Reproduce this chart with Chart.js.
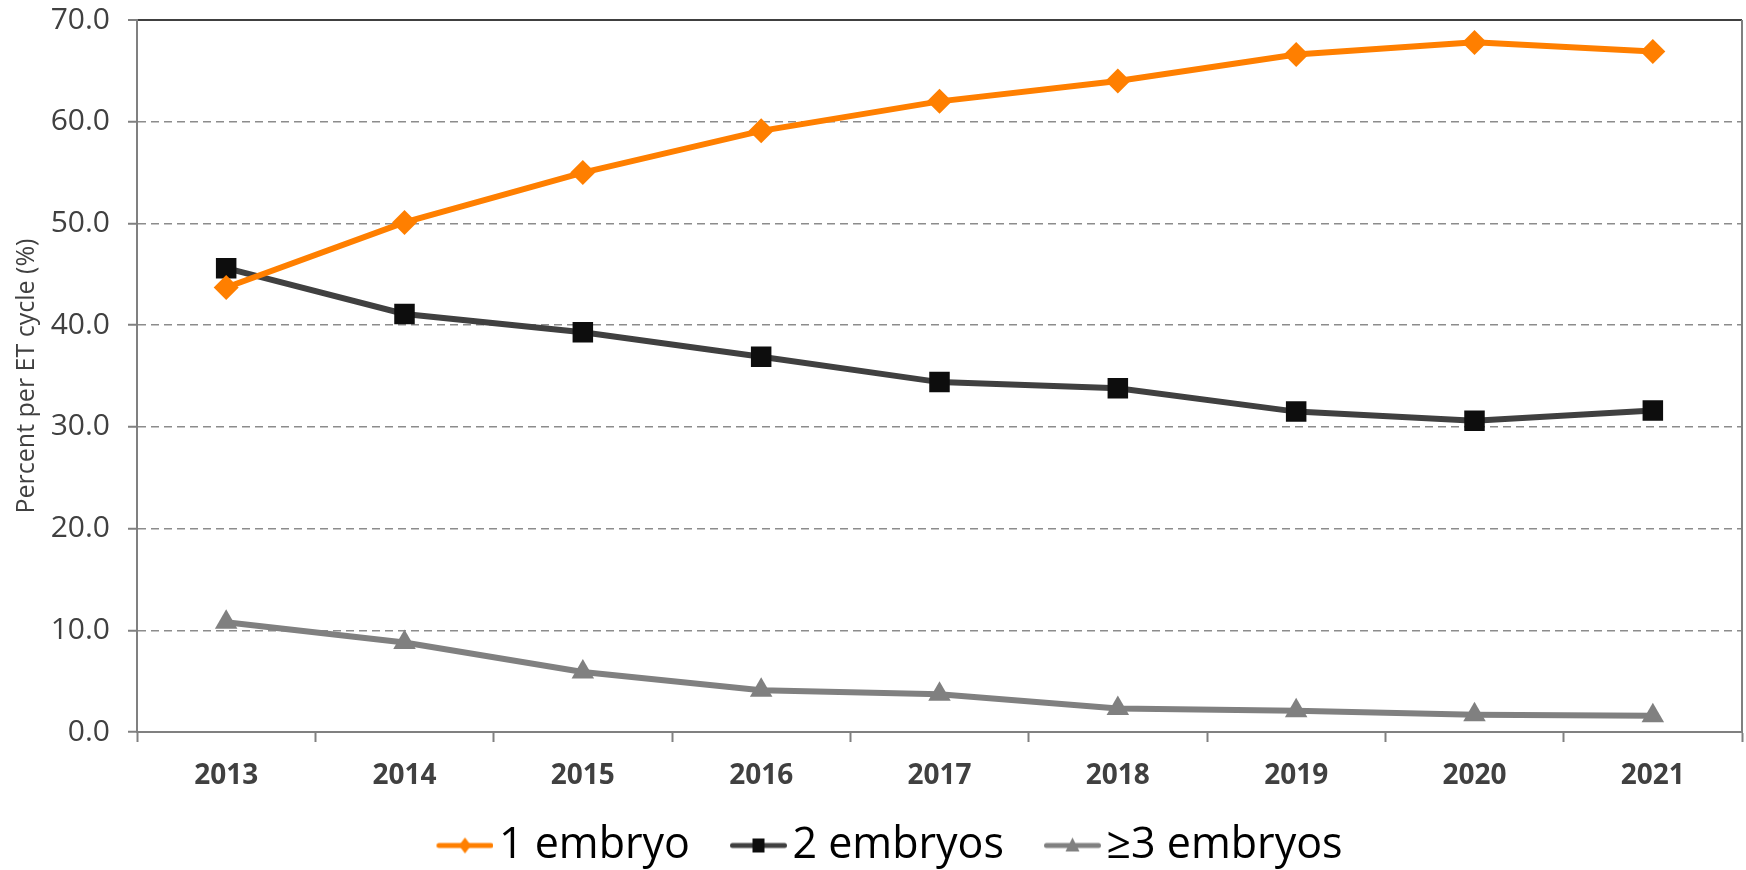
<!DOCTYPE html>
<html>
<head>
<meta charset="utf-8">
<title>Embryos transferred per ET cycle</title>
<script src="https://cdn.jsdelivr.net/npm/chart.js@4.4.1/dist/chart.umd.min.js"></script>
<style>
  html, body { margin: 0; padding: 0; background: #fff; overflow: hidden; }
  #wrap { width: 1746px; height: 870px; }
</style>
</head>
<body>
<div id="wrap"><canvas id="grafico"></canvas></div>
<script>
// dados
const years = ['2013', '2014', '2015', '2016', '2017', '2018', '2019', '2020', '2021'];
const oneEmbryo = [43.7, 50.1, 55.0, 59.1, 62.0, 64.0, 66.6, 67.8, 66.9];
const twoEmbryos = [45.6, 41.1, 39.3, 36.9, 34.4, 33.8, 31.5, 30.6, 31.6];
const threePlusEmbryos = [10.8, 8.8, 5.9, 4.1, 3.7, 2.3, 2.1, 1.7, 1.6];
const yTicks = [0, 10, 20, 30, 40, 50, 60, 70];

const ORANGE = '#FF7F00';
const DARK = '#404040';
const GREY = '#808080';

// legend icons: short line with marker, blank space on the left for spacing
function legendIcon(color, markerColor, shape) {
    const c = document.createElement('canvas');
    c.width = 110;
    c.height = 24;
    const g = c.getContext('2d');
    g.strokeStyle = color;
    g.lineWidth = 5;
    g.lineCap = 'round';
    g.beginPath();
    g.moveTo(55.5, 12);
    g.lineTo(107.5, 12);
    g.stroke();
    const mx = 81.5;
    g.fillStyle = markerColor;
    g.beginPath();
    if (shape === 'diamond') {
        g.moveTo(mx, 4); g.lineTo(mx + 6, 12); g.lineTo(mx, 20); g.lineTo(mx - 6, 12);
    } else if (shape === 'square') {
        g.rect(mx - 6, 5, 12, 14);
    } else {
        g.moveTo(mx, 4); g.lineTo(mx + 7, 18); g.lineTo(mx - 7, 18);
    }
    g.closePath();
    g.fill();
    return c;
}
const icons = [
    legendIcon(ORANGE, ORANGE, 'diamond'),
    legendIcon(DARK, '#0D0D0D', 'square'),
    legendIcon(GREY, GREY, 'triangle')
];

// right border of the plot area
const rightBorder = {
    id: 'rightBorder',
    afterDraw(chart) {
        const a = chart.chartArea;
        const ctx = chart.ctx;
        ctx.save();
        ctx.strokeStyle = GREY;
        ctx.lineWidth = 2;
        ctx.beginPath();
        ctx.moveTo(a.right, a.top);
        ctx.lineTo(a.right, a.bottom + 1);
        ctx.stroke();
        ctx.restore();
    }
};

const ctx = document.getElementById('grafico');
const chart = new Chart(ctx.getContext('2d'), {
    type: 'line',
    data: {
        labels: years,
        datasets: [{
            label: '1 embryo',
            data: oneEmbryo,
            borderColor: ORANGE,
            backgroundColor: ORANGE,
            borderWidth: 6,
            pointStyle: 'rectRot',
            pointRadius: 12.5,
            pointBorderWidth: 0
        }, {
            label: '2 embryos',
            data: twoEmbryos,
            borderColor: DARK,
            backgroundColor: '#0D0D0D',
            borderWidth: 6,
            pointStyle: 'rect',
            pointRadius: 14.5,
            pointBorderWidth: 0
        }, {
            label: '\u22653 embryos',
            data: threePlusEmbryos,
            borderColor: GREY,
            backgroundColor: GREY,
            borderWidth: 6,
            pointStyle: 'triangle',
            pointRadius: 13,
            pointBorderWidth: 0
        }]
    },
    options: {
        responsive: true,
        maintainAspectRatio: false,
        animation: false,
        layout: {
            autoPadding: false,
            padding: { top: 20, right: 4, left: 0, bottom: -7 }
        },
        plugins: {
            tooltip: { enabled: false },
            legend: {
                position: 'bottom',
                labels: {
                    usePointStyle: true,
                    pointStyleWidth: 78,
                    padding: 3,
                    color: '#000',
                    font: { family: 'Open Sans', size: 43 },
                    generateLabels(chart) {
                        const items = Chart.defaults.plugins.legend.labels.generateLabels(chart);
                        items.forEach(it => { it.pointStyle = icons[it.datasetIndex]; });
                        return items;
                    }
                }
            }
        },
        scales: {
            x: {
                offset: true,
                afterFit(scale) {
                    scale.height = 89;
                    scale.paddingLeft = 0;
                    scale.paddingRight = 0;
                },
                grid: {
                    offset: true,
                    drawOnChartArea: false,
                    tickLength: 10,
                    tickColor: GREY,
                    tickWidth: 2
                },
                border: { color: GREY, width: 2 },
                ticks: {
                    color: DARK,
                    padding: 17,
                    font: { family: 'Open Sans', size: 28, weight: 'bold' }
                }
            },
            y: {
                min: 0,
                max: 70,
                afterBuildTicks(scale) {
                    scale.ticks = yTicks.map(v => ({ value: v }));
                },
                afterFit(scale) {
                    scale.width = 137;
                    scale.paddingTop = 0;
                    scale.paddingBottom = 0;
                },
                grid: {
                    color: c => (c.tick && c.tick.value === 70) ? DARK : '#8C8C8C',
                    lineWidth: c => (c.tick && c.tick.value === 70) ? 2 : 1.5,
                    tickColor: GREY,
                    tickLength: 9,
                    tickWidth: 2,
                    tickBorderDash: []
                },
                border: {
                    color: GREY,
                    width: 2,
                    dash: c => (c.tick && c.tick.value === 70) ? [] : [8, 5]
                },
                ticks: {
                    color: DARK,
                    padding: 18,
                    font: { family: 'Open Sans', size: 30 },
                    callback: v => v.toFixed(1)
                },
                title: {
                    display: true,
                    text: 'Percent per ET cycle (%)',
                    color: DARK,
                    padding: { top: 12, bottom: 0 },
                    font: { family: 'Open Sans', size: 25 }
                }
            }
        }
    },
    plugins: [rightBorder]
});
</script>
</body>
</html>
